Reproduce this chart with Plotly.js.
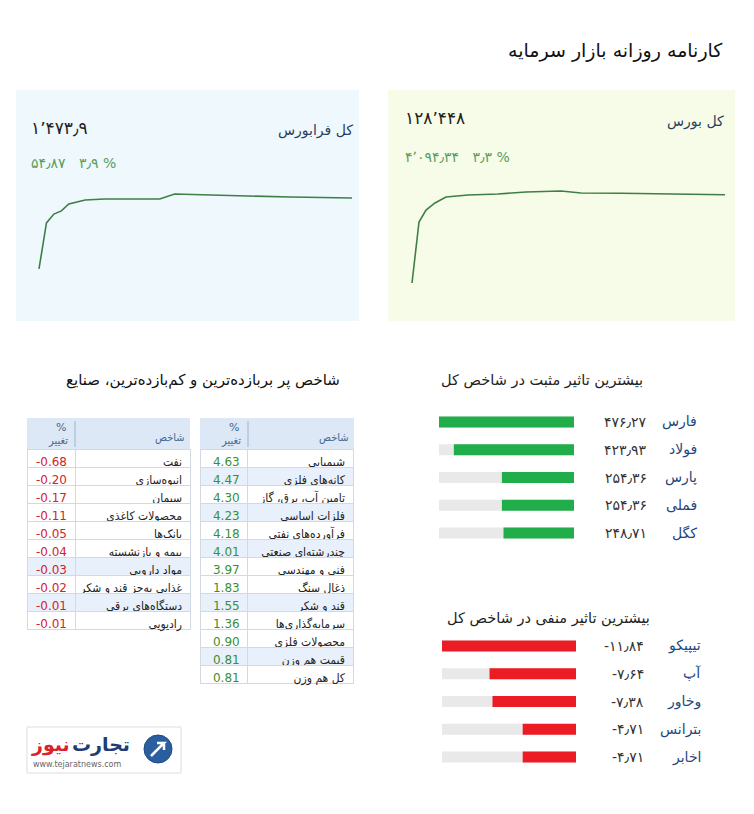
<!DOCTYPE html>
<html>
<head>
<meta charset="utf-8">
<script src="https://cdn.plot.ly/plotly-3.0.1.min.js"></script>
<style>html,body{margin:0;padding:0;background:#fff;}#chart{width:754px;height:814px;}</style>
</head>
<body>
<div id="chart"></div>
<script>
// ---------- DATA ----------
const pageTitle = 'کارنامه روزانه بازار سرمایه';

// Farabourse index intraday (minutes from open, index value)
const faraName = 'کل فرابورس';
const faraValue = 1473.9;
const faraChange = 54.87;
const faraPct = 3.9;
const faraTimes  = [0, 5, 10, 15, 20, 25, 31, 44, 64, 71, 81, 91, 109, 140, 169, 210];
const faraValues = [1419, 1454.7, 1461.6, 1464, 1469.4, 1471, 1472.5, 1473.3, 1473.3, 1473.2, 1473.3, 1477.1, 1476.4, 1475.6, 1474.8, 1474.0];

// Bourse total index intraday
const bourseName = 'کل بورس';
const bourseValue = 128448;
const bourseChange = 4094.34;
const boursePct = 3.3;
const bourseTimes  = [0, 4.7, 9.4, 15.4, 22.8, 37.6, 57.7, 76.5, 100, 113.4, 140, 176.5, 210];
const bourseValues = [124354, 127191, 127749, 128075, 128354, 128447, 128494, 128587, 128634, 128540, 128525, 128480, 128460];

// Industries tables
const tablesTitle = 'شاخص پر بربازده‌ترین و کم‌بازده‌ترین، صنایع';
const headerPct = '%';
const headerChange = 'تغییر';
const headerNameLabel = 'شاخص';
const gainNames = ['شیمیایی', 'کانه‌های فلزی', 'تامین آب، برق، گاز', 'فلزات اساسی', 'فرآورده‌های نفتی', 'چندرشته‌ای صنعتی', 'فنی و مهندسی', 'ذغال سنگ', 'قند و شکر', 'سرمایه‌گذاری‌ها', 'محصولات فلزی', 'قیمت هم وزن', 'کل هم وزن'];
const gainValues = [4.63, 4.47, 4.30, 4.23, 4.18, 4.01, 3.97, 1.83, 1.55, 1.36, 0.90, 0.81, 0.81];
const loseNames = ['نفت', 'انبوه‌سازی', 'سیمان', 'محصولات کاغذی', 'بانک‌ها', 'بیمه و بازنشسته', 'مواد دارویی', 'غذایی به‌جز قند و شکر', 'دستگاه‌های برقی', 'رادیویی'];
const loseValues = [-0.68, -0.20, -0.17, -0.11, -0.05, -0.04, -0.03, -0.02, -0.01, -0.01];

// Most positive / negative impact on total index
const posTitle = 'بیشترین تاثیر مثبت در شاخص کل';
const posNames = ['فارس', 'فولاد', 'پارس', 'فملی', 'کگل'];
const posValues = [476.27, 423.93, 254.36, 254.36, 248.71];
const negTitle = 'بیشترین تاثیر منفی در شاخص کل';
const negNames = ['تیپیکو', 'آپ', 'وخاور', 'بترانس', 'اخابر'];
const negValues = [-11.84, -7.64, -7.38, -4.71, -4.71];

// ---------- HELPERS ----------
const W = 754, H = 814;
const px = v => v / W;
const py = v => 1 - v / H;
const fa = s => String(s).replace(/[0-9]/g, d => '۰۱۲۳۴۵۶۷۸۹'[d]).replace(/\./g, '٫').replace(/,/g, '٬');
const FONT = 'DejaVu Sans, Liberation Sans, sans-serif';
const TFONT = 'DejaVu Sans Condensed, DejaVu Sans, sans-serif';
const NB = '\u00a0\u00a0\u00a0';
const nowrap = s => s.replace(/ /g, '\u00a0');

// ---------- TRACES ----------
const traces = [];
traces.push({type: 'scatter', mode: 'lines', x: faraTimes, y: faraValues, xaxis: 'x', yaxis: 'y',
  line: {color: '#3f7f45', width: 1.6}, hoverinfo: 'skip'});
traces.push({type: 'scatter', mode: 'lines', x: bourseTimes, y: bourseValues, xaxis: 'x2', yaxis: 'y2',
  line: {color: '#3f7f45', width: 1.6}, hoverinfo: 'skip'});

const posMax = Math.max(...posValues);
const negMin = Math.min(...negValues);
traces.push({type: 'bar', orientation: 'h', y: posNames, x: posNames.map(() => posMax), xaxis: 'x3', yaxis: 'y3',
  marker: {color: '#e9e9e9'}, hoverinfo: 'skip'});
traces.push({type: 'bar', orientation: 'h', y: posNames, x: posValues, xaxis: 'x3', yaxis: 'y3',
  marker: {color: '#22ad4b'}, hoverinfo: 'skip'});
traces.push({type: 'bar', orientation: 'h', y: negNames, x: negNames.map(() => negMin), xaxis: 'x4', yaxis: 'y4',
  marker: {color: '#e9e9e9'}, hoverinfo: 'skip'});
traces.push({type: 'bar', orientation: 'h', y: negNames, x: negValues, xaxis: 'x4', yaxis: 'y4',
  marker: {color: '#ec1c24'}, hoverinfo: 'skip'});

// tables (transparent table header; its labels drawn as shapes/annotations beneath)
const blue = '#e8f0fb';
const gainFill = gainNames.map((_, i) => [2, 4, 6, 9, 12].includes(i + 1) ? blue : '#ffffff');
const loseFill = loseNames.map((_, i) => [7, 9].includes(i + 1) ? blue : '#ffffff');
const HDR_TOP = 418, HDR_BOT = 449, ROW_H = 18;
function table(names, values, fills, x0, x1, cw) {
  const y1 = HDR_BOT + names.length * ROW_H + 3;
  return {
    type: 'table',
    domain: {x: [px(x0), px(x1)], y: [py(y1), py(HDR_TOP)]},
    columnwidth: cw,
    header: {values: ['', ''], height: HDR_BOT - HDR_TOP,
      fill: {color: 'rgba(0,0,0,0)'}, line: {color: 'rgba(0,0,0,0)', width: 0},
      font: {family: FONT, size: 11}},
    cells: {
      values: [values.map(v => v.toFixed(2)), names.map(nowrap)],
      align: ['right', 'right'], height: ROW_H,
      fill: {color: [fills, fills]},
      line: {color: '#d3d9e2', width: 1},
      font: {family: [FONT, TFONT], size: [12, 12], color: [values.map(v => v >= 0 ? '#3a8f34' : '#d3232a'), names.map(() => '#222222')]}
    }
  };
}
const tbls = [
  {names: gainNames, values: gainValues, fills: gainFill, x0: 200, xd: 248, x1: 354},
  {names: loseNames, values: loseValues, fills: loseFill, x0: 27, xd: 75, x1: 190}
];
tbls.forEach(t => traces.push(table(t.names, t.values, t.fills, t.x0, t.x1, [t.xd - t.x0, t.x1 - t.xd])));

// ---------- LAYOUT ----------
const hid = {visible: false, showgrid: false, zeroline: false, fixedrange: true};
const shapes = [
  {type: 'rect', xref: 'paper', yref: 'paper', x0: px(16), x1: px(359), y0: py(321), y1: py(90), fillcolor: '#eef8fd', line: {width: 0}, layer: 'below'},
  {type: 'rect', xref: 'paper', yref: 'paper', x0: px(388), x1: px(735), y0: py(321), y1: py(90), fillcolor: '#f6fce8', line: {width: 0}, layer: 'below'},
  // logo pill
  {type: 'rect', xref: 'paper', yref: 'paper', x0: px(27), x1: px(181), y0: py(773), y1: py(727), fillcolor: '#ffffff', line: {color: '#dddddd', width: 1}, layer: 'below'},
  {type: 'circle', xref: 'paper', yref: 'paper', x0: px(144), x1: px(172), y0: py(763), y1: py(735), fillcolor: '#2b5e9e', line: {color: '#1d4a85', width: 1}},
  {type: 'path', xref: 'paper', yref: 'paper', path: `M ${px(151)} ${py(756)} L ${px(164)} ${py(743)} L ${px(157)} ${py(743)} M ${px(164)} ${py(743)} L ${px(164)} ${py(750)}`, line: {color: '#ffffff', width: 2.5}}
];

const ann = [];
const A = (o) => ann.push(Object.assign({showarrow: false, xref: 'paper', yref: 'paper', font: {family: FONT}}, o));

// table headers
tbls.forEach(t => {
  shapes.push({type: 'rect', xref: 'paper', yref: 'paper', x0: px(t.x0), x1: px(t.x1), y0: py(HDR_BOT), y1: py(HDR_TOP), fillcolor: '#dce8f6', line: {width: 0}, layer: 'below'});
  shapes.push({type: 'line', xref: 'paper', yref: 'paper', x0: px(t.xd), x1: px(t.xd), y0: py(HDR_BOT - 2), y1: py(HDR_TOP + 3), line: {color: '#9bb4d3', width: 1}, layer: 'below'});
  A({text: headerPct, x: px(t.xd - 14), y: py(427), xanchor: 'center', yanchor: 'middle', font: {family: FONT, size: 11, color: '#46698f'}});
  A({text: headerChange, x: px(t.xd - 5), y: py(441), xanchor: 'right', yanchor: 'middle', font: {family: TFONT, size: 11, color: '#46698f'}});
  A({text: headerNameLabel, x: px(t.x1 - 3), y: py(437), xanchor: 'right', yanchor: 'middle', font: {family: TFONT, size: 11, color: '#46698f'}});
});

A({text: pageTitle, x: px(725), y: py(50), xanchor: 'right', yanchor: 'middle', font: {family: FONT, size: 19, color: '#111'}});

A({text: faraName, x: px(355), y: py(131), xanchor: 'right', yanchor: 'middle', font: {family: FONT, size: 14, color: '#2a3e62'}});
A({text: fa(faraValue.toLocaleString('en-US')), x: px(29), y: py(128), xanchor: 'left', yanchor: 'middle', font: {family: FONT, size: 17, color: '#222'}});
A({text: fa(faraChange.toFixed(2)) + NB + fa(faraPct.toFixed(1)) + ' %', x: px(29), y: py(163), xanchor: 'left', yanchor: 'middle', font: {family: FONT, size: 14, color: '#5a9c5c'}});

A({text: bourseName, x: px(726), y: py(122), xanchor: 'right', yanchor: 'middle', font: {family: FONT, size: 14, color: '#2a3e62'}});
A({text: fa(bourseValue.toLocaleString('en-US')), x: px(403), y: py(118), xanchor: 'left', yanchor: 'middle', font: {family: FONT, size: 17, color: '#222'}});
A({text: fa(bourseChange.toLocaleString('en-US', {minimumFractionDigits: 2})) + NB + fa(boursePct.toFixed(1)) + ' %', x: px(403), y: py(157), xanchor: 'left', yanchor: 'middle', font: {family: FONT, size: 14, color: '#5a9c5c'}});

A({text: tablesTitle, x: px(342), y: py(380), xanchor: 'right', yanchor: 'middle', font: {family: FONT, size: 15, color: '#111'}});
A({text: posTitle, x: px(645), y: py(380), xanchor: 'right', yanchor: 'middle', font: {family: FONT, size: 14.5, color: '#222'}});
A({text: negTitle, x: px(652), y: py(618), xanchor: 'right', yanchor: 'middle', font: {family: FONT, size: 14.5, color: '#222'}});

posNames.forEach((n, i) => {
  A({text: n, yref: 'y3', y: n, x: px(699), xanchor: 'right', yanchor: 'middle', font: {family: FONT, size: 14, color: '#24467e'}});
  A({text: fa(posValues[i].toFixed(2)), yref: 'y3', y: n, x: px(649), xanchor: 'right', yanchor: 'middle', font: {family: FONT, size: 14, color: '#333'}});
});
negNames.forEach((n, i) => {
  A({text: n, yref: 'y4', y: n, x: px(703), xanchor: 'right', yanchor: 'middle', font: {family: FONT, size: 14, color: '#24467e'}});
  A({text: fa(negValues[i].toFixed(2)), yref: 'y4', y: n, x: px(646), xanchor: 'right', yanchor: 'middle', font: {family: FONT, size: 14, color: '#333'}});
});

// logo text
A({text: '<b>تجارت</b>', x: px(132), y: py(744), xanchor: 'right', yanchor: 'middle', font: {family: FONT, size: 19, color: '#1d3c78'}});
A({text: '<b>نیوز</b>', x: px(72), y: py(744), xanchor: 'right', yanchor: 'middle', font: {family: FONT, size: 19, color: '#d8232a'}});
A({text: 'www.tejaratnews.com', x: px(31), y: py(764), xanchor: 'left', yanchor: 'middle', font: {family: FONT, size: 8, color: '#666'}});

const layout = {
  width: W, height: H, margin: {l: 0, r: 0, t: 0, b: 0},
  paper_bgcolor: '#ffffff', plot_bgcolor: 'rgba(0,0,0,0)',
  showlegend: false, barmode: 'overlay', bargap: 0.6,
  xaxis:  Object.assign({}, hid, {domain: [px(31.55), px(359.45)], range: [-5, 215]}),
  yaxis:  Object.assign({}, hid, {domain: [py(280.6), py(177.4)], range: [1410, 1490]}),
  xaxis2: Object.assign({}, hid, {domain: [px(404.55), px(732.45)], range: [-5, 215]}),
  yaxis2: Object.assign({}, hid, {domain: [py(290.6), py(183.1)], range: [124000, 129000]}),
  xaxis3: Object.assign({}, hid, {domain: [px(439), px(574)], range: [posMax, 0]}),
  yaxis3: Object.assign({}, hid, {domain: [py(546.9), py(408.1)], type: 'category', categoryarray: posNames, autorange: 'reversed'}),
  xaxis4: Object.assign({}, hid, {domain: [px(442), px(576)], range: [negMin, 0]}),
  yaxis4: Object.assign({}, hid, {domain: [py(770.9), py(632.1)], type: 'category', categoryarray: negNames, autorange: 'reversed'}),
  shapes: shapes, annotations: ann
};

Plotly.newPlot('chart', traces, layout, {displayModeBar: false, staticPlot: true});
</script>
</body>
</html>
